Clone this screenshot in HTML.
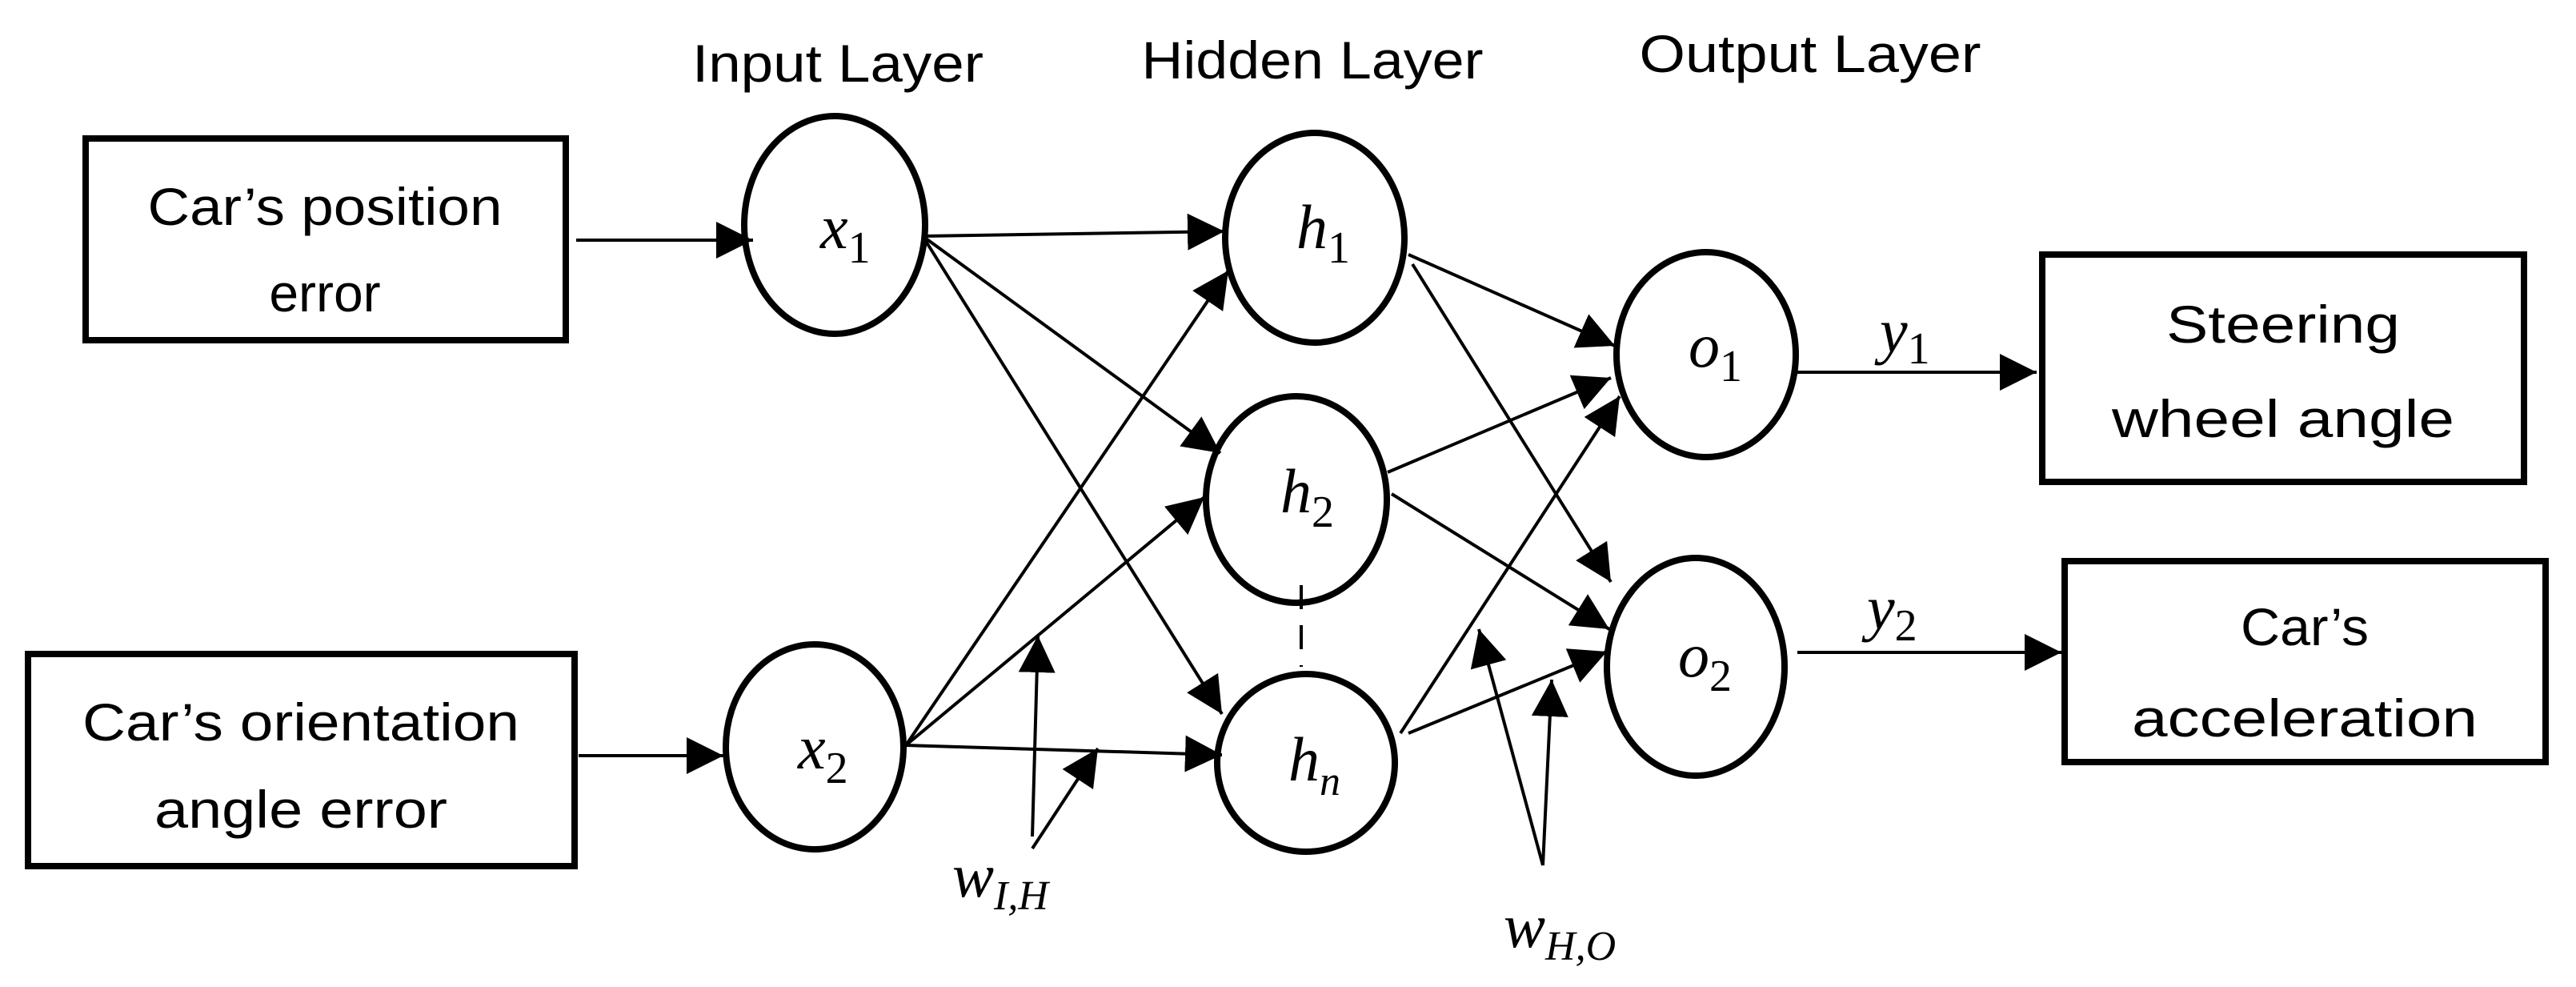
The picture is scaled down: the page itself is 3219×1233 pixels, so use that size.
<!DOCTYPE html>
<html><head><meta charset="utf-8"><style>
html,body{margin:0;padding:0;background:#fff;}
svg{display:block;}
.t{font-family:"Liberation Sans",sans-serif;font-size:66px;fill:#000;}
.m{font-family:"Liberation Serif",serif;font-style:italic;font-size:78px;fill:#000;}
.s{font-family:"Liberation Serif",serif;font-style:normal;font-size:56px;}
.si{font-family:"Liberation Serif",serif;font-style:italic;font-size:52px;}
</style></head><body>
<svg width="3219" height="1233" viewBox="0 0 3219 1233" xmlns="http://www.w3.org/2000/svg">
<defs>
<marker id="a" markerUnits="userSpaceOnUse" markerWidth="48" markerHeight="48" refX="46" refY="23" orient="auto">
<path d="M0,0 L46,23 L0,46 Z" fill="#000"/>
</marker>
</defs>
<g fill="none" stroke="#000" stroke-width="8">
<rect x="107" y="173" width="600" height="252"/>
<rect x="35" y="817" width="683" height="265"/>
<rect x="2552" y="318" width="602" height="284"/>
<rect x="2580" y="701" width="601" height="251"/>
<ellipse cx="1043" cy="281" rx="113" ry="136"/>
<ellipse cx="1018" cy="933" rx="111" ry="128"/>
<ellipse cx="1643" cy="297" rx="112" ry="131"/>
<ellipse cx="1620" cy="624" rx="113" ry="129"/>
<ellipse cx="1632" cy="953" rx="111" ry="111"/>
<ellipse cx="2132" cy="443" rx="112" ry="128"/>
<ellipse cx="2119" cy="833" rx="111" ry="136"/>
</g>
<g stroke="#000" stroke-width="4" fill="none" marker-end="url(#a)">
<line x1="720" y1="300" x2="941" y2="300"/>
<line x1="723" y1="944" x2="904" y2="944"/>
<line x1="1153" y1="295" x2="1530" y2="289"/>
<line x1="1153" y1="295" x2="1525" y2="566"/>
<line x1="1153" y1="295" x2="1527" y2="892"/>
<line x1="1132" y1="931" x2="1535" y2="338"/>
<line x1="1132" y1="931" x2="1505" y2="621"/>
<line x1="1132" y1="931" x2="1527" y2="943"/>
<line x1="1290" y1="1045" x2="1297" y2="794"/>
<line x1="1290" y1="1060" x2="1372" y2="935"/>
<line x1="1760" y1="318" x2="2018" y2="432"/>
<line x1="1765" y1="330" x2="2013" y2="727"/>
<line x1="1734" y1="590" x2="2013" y2="472"/>
<line x1="1739" y1="617" x2="2011" y2="786"/>
<line x1="1750" y1="916" x2="2024" y2="495"/>
<line x1="1760" y1="916" x2="2008" y2="814"/>
<line x1="1928" y1="1081" x2="1848" y2="786"/>
<line x1="1928" y1="1081" x2="1939" y2="849"/>
<line x1="2246" y1="465" x2="2545" y2="465"/>
<line x1="2246" y1="815" x2="2576" y2="815"/>
</g>
<line x1="1626" y1="731" x2="1626" y2="833" stroke="#000" stroke-width="4" stroke-dasharray="30,20"/>
<text class="t" x="1047" y="102" text-anchor="middle" textLength="364" lengthAdjust="spacingAndGlyphs">Input Layer</text>
<text class="t" x="1640" y="98" text-anchor="middle" textLength="427" lengthAdjust="spacingAndGlyphs">Hidden Layer</text>
<text class="t" x="2262" y="90" text-anchor="middle" textLength="427" lengthAdjust="spacingAndGlyphs">Output Layer</text>
<text class="t" x="406" y="281" text-anchor="middle" textLength="443" lengthAdjust="spacingAndGlyphs">Car’s position</text>
<text class="t" x="406" y="389" text-anchor="middle">error</text>
<text class="t" x="376" y="925" text-anchor="middle" textLength="546" lengthAdjust="spacingAndGlyphs">Car’s orientation</text>
<text class="t" x="376" y="1034" text-anchor="middle" textLength="366" lengthAdjust="spacingAndGlyphs">angle error</text>
<text class="t" x="2853" y="428" text-anchor="middle" textLength="292" lengthAdjust="spacingAndGlyphs">Steering</text>
<text class="t" x="2853" y="546" text-anchor="middle" textLength="428" lengthAdjust="spacingAndGlyphs">wheel angle</text>
<text class="t" x="2880" y="806" text-anchor="middle" textLength="160" lengthAdjust="spacingAndGlyphs">Car’s</text>
<text class="t" x="2880" y="920" text-anchor="middle" textLength="432" lengthAdjust="spacingAndGlyphs">acceleration</text>
<text class="m" x="1025" y="310">x<tspan class="s" dy="18">1</tspan></text>
<text class="m" x="997" y="960">x<tspan class="s" dy="18">2</tspan></text>
<text class="m" x="1620" y="310">h<tspan class="s" dy="18">1</tspan></text>
<text class="m" x="1600" y="640">h<tspan class="s" dy="18">2</tspan></text>
<text class="m" x="1610" y="975">h<tspan class="si" dy="18">n</tspan></text>
<text class="m" x="2110" y="458">o<tspan class="s" dy="18">1</tspan></text>
<text class="m" x="2097" y="845">o<tspan class="s" dy="18">2</tspan></text>
<text class="m" x="2349" y="440">y<tspan class="s" dy="14">1</tspan></text>
<text class="m" x="2333" y="786">y<tspan class="s" dy="14">2</tspan></text>
<text class="m" x="1190" y="1120">w<tspan class="si" dy="16">I,H</tspan></text>
<text class="m" x="1879" y="1183">w<tspan class="si" dy="16">H,O</tspan></text>
</svg>
</body></html>
